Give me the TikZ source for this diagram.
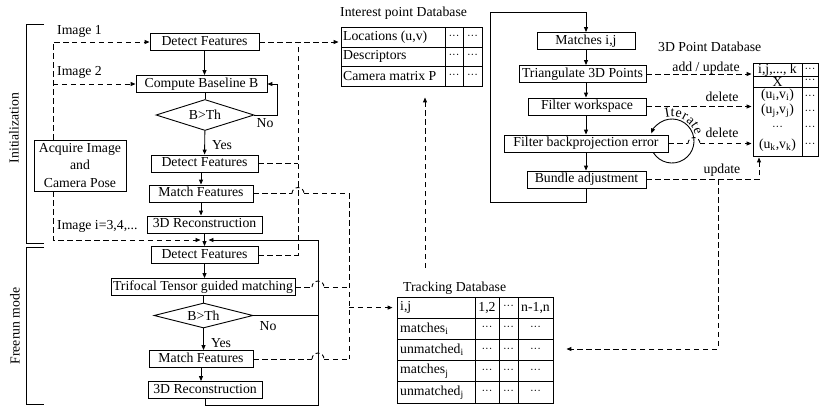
\documentclass[tikz,border=0pt]{standalone}
\usepackage{fontspec}
\setmainfont{Liberation Serif}
\usetikzlibrary{arrows.meta,shapes.geometric,decorations.text}
\tikzset{
  box/.style={draw, line width=0.9pt, inner sep=0pt, text height=9.6pt, text depth=2.6pt, minimum height=17bp},
  mbox/.style={draw, line width=0.9pt, inner sep=0pt, align=center},
  dia/.style={draw, line width=0.9pt, diamond, aspect=3.2, inner sep=0pt},
  flow/.style={line width=0.9pt, -{Triangle[length=5pt,width=4pt]}},
  sline/.style={line width=0.9pt},
  dline/.style={line width=0.9pt, dash pattern=on 5.5pt off 3.5pt},
  darrow/.style={dline, -{Triangle[length=5pt,width=4pt]}},
  hop/.style={line width=0.9pt, dash pattern=on 4pt off 3pt},
  lbl/.style={inner sep=0pt},
  dots/.style={inner sep=0pt, font=\fontsize{11}{11}\selectfont},
  tbl/.style={draw, line width=0.9pt, inner sep=0pt},
  grid/.style={line width=0.9pt},
}
\newcommand{\mydots}{\char"00B7\char"00B7\char"00B7}
\begin{document}
\begin{tikzpicture}[x=1bp, y=-1bp, font=\fontsize{13.8}{17.5}\selectfont]
\useasboundingbox (0,0) rectangle (839,409);

% brackets
\draw[sline] (44,24) -- (26,24) -- (26,243) -- (44,243);
\draw[sline] (44,247) -- (26,247) -- (26,404) -- (44,404);
\node[lbl, rotate=90] (init) at (14,128) {Initialization};
\node[lbl, rotate=90] (free) at (15,326) {Freerun mode};

% left column
\node[box, minimum width=109bp] (df1) at (204.5,42) {Detect Features};
\node[box, minimum width=131bp] (cb) at (201.5,84) {Compute Baseline B};
\node[dia, minimum width=98bp, minimum height=31bp] (d1) at (205,115) {B>Th};
\node[box, minimum width=107bp] (df2) at (204.5,163.5) {Detect Features};
\node[box, minimum width=104bp] (mf1) at (201,193.5) {Match Features};
\node[box, minimum width=115bp] (r1) at (204.5,224.5) {3D Reconstruction};
\node[mbox, minimum width=92bp, minimum height=51bp] (acq) at (80,165.5) {Acquire Image\\and\\Camera Pose};
\node[box, minimum width=107bp] (df3) at (204.5,255) {Detect Features};
\node[box, minimum width=184bp] (tri) at (203,287) {Trifocal Tensor guided matching};
\node[dia, minimum width=99bp, minimum height=25bp] (d2) at (203.5,315.5) {B>Th};
\node[box, minimum width=104bp] (mf2) at (201,359) {Match Features};
\node[box, minimum width=114bp] (r2) at (205,390) {3D Reconstruction};

\node[lbl] (no1) at (265,123) {No};
\node[lbl] (yes1) at (222,145) {Yes};
\node[lbl] (no2) at (268,326) {No};
\node[lbl] (yes2) at (221,343) {Yes};
\node[lbl, anchor=west] (im1) at (57,31) {Image 1};
\node[lbl, anchor=west] (im2) at (57,72) {Image 2};
\node[lbl, anchor=west] (imi) at (57,226) {Image i=3,4,...};

% left column arrows
\draw[flow] (df1) -- (df1.south |- cb.north);
\draw[sline] (cb.south -| d1.north) -- (d1.north);
\draw[flow] (d1) -- (df2);
\draw[flow] (df2.south -| mf1.south) -- (mf1.south |- mf1.north);
\draw[flow] (mf1.south) -- (mf1.south |- r1.north);
\draw[flow] (r1) -- (df3);
\draw[flow] (df3) -- (df3.south |- tri.north);
\draw[sline] (tri.south -| d2.north) -- (d2.north);
\draw[flow] (d2.south) -- (d2.south |- mf2.north);
\draw[flow] (mf2.south) -- (mf2.south |- r2.north);
\coordinate (nl) at (277.5,84);
\draw[flow] (d1.east) -| (nl) -- (cb.east);

% freerun loop
\coordinate (jn) at (204.5,240);
\coordinate (fl1) at (318,405);
\coordinate (fl2) at (318,240);
\draw[flow] (r2.south) |- (fl1) -- (fl2) -- ([xshift=4bp]jn);
\draw[sline] (d2.east) -- (d2.east -| fl1);

% image inputs
\coordinate (c1) at (53,42);
\coordinate (c3) at (53,240);
\draw[darrow] (acq.north -| c1) -- (c1) -- (df1.west);
\draw[darrow] (c1 |- cb.west) -- (cb.west);
\draw[darrow] (acq.south -| c3) -- (c3) -- ([xshift=-4bp]jn);

% interest point database
\node[tbl, minimum width=141bp, minimum height=59bp] (ipdb) at (411.5,56.5) {};
\draw[grid] (341,47) -- (482,47);
\draw[grid] (341,66) -- (482,66);
\draw[grid] (445,27) -- (445,86);
\draw[grid] (463,27) -- (463,86);
\node[lbl, anchor=west] (ipt) at (340,13) {Interest point Database};
\node[lbl, anchor=west] (loc) at (343,37) {Locations (u,v)};
\node[lbl, anchor=west] (des) at (343,56.5) {Descriptors};
\node[lbl, anchor=west] (cam) at (343,76) {Camera matrix P};
\foreach \y [count=\i] in {37,56.5,76} {
  \node[dots] (ipa\i) at (454,\y) {\mydots};
  \node[dots] (ipb\i) at (472.5,\y) {\mydots};
}

% dashed to interest point DB
\coordinate (v1t) at (298,42);
\coordinate (v1b) at (298,255);
\draw[darrow, shorten >=2bp] (df1.east) -- (df1.east -| ipdb.west);
\draw[dline] (df3.east) -- (v1b) -- (v1t);
\draw[dline] (df2.east) -- (df2.east -| v1t);

% dashed to tracking DB (with hops)
\coordinate (v2t) at (349,193.5);
\coordinate (v2b) at (349,359);
\coordinate (v2m) at (349,307.6);
\coordinate (h1a) at (292,193.5);
\coordinate (h1b) at (304,193.5);
\coordinate (h2a) at (312,287);
\coordinate (h2b) at (324,287);
\coordinate (h3a) at (312,359);
\coordinate (h3b) at (324,359);
\draw[dline] (mf1.east) -- (h1a);
\draw[hop] (h1a) arc[start angle=180, end angle=0, radius=6bp];
\draw[dline] (h1b) -- (v2t) -- (v2b);
\draw[dline] (tri.east) -- (h2a);
\draw[hop] (h2a) arc[start angle=180, end angle=0, radius=6bp];
\draw[dline] (h2b) -- (h2b -| v2t);
\draw[dline] (mf2.east) -- (h3a);
\draw[hop] (h3a) arc[start angle=180, end angle=0, radius=6bp];
\draw[dline] (h3b) -- (v2b);

% tracking database
\node[tbl, minimum width=156bp, minimum height=106bp] (tdb) at (475,350) {};
\foreach \y in {318.2,339.4,360.6,381.8} \draw[grid] (397,\y) -- (553,\y);
\foreach \x in {475,499,518} \draw[grid] (\x,297) -- (\x,403);
\node[lbl, anchor=west] (tdt) at (403,288) {Tracking Database};
\node[lbl, anchor=west] (h0) at (400,307.6) {i,j};
\node[lbl] (hh1) at (487,307.6) {1,2};
\node[dots] (hh2) at (508.5,307.6) {\mydots};
\node[lbl] (hh3) at (535.5,307.6) {n-1,n};
\node[lbl, anchor=west] (ra) at (400,328.8) {matches\textsubscript{i}};
\node[lbl, anchor=west] (rb) at (400,350) {unmatched\textsubscript{i}};
\node[lbl, anchor=west] (rc) at (400,371.2) {matches\textsubscript{j}};
\node[lbl, anchor=west] (rd) at (400,392.4) {unmatched\textsubscript{j}};
\foreach \y [count=\i] in {328.8,350,371.2,392.4} {
  \node[dots] (ta\i) at (487,\y) {\mydots};
  \node[dots] (tb\i) at (508.5,\y) {\mydots};
  \node[dots] (tc\i) at (535.5,\y) {\mydots};
}
\draw[darrow, shorten >=4bp] (v2m) -- (v2m -| tdb.west);
\coordinate (ut) at (425,268);
\draw[darrow, shorten >=11bp] (ut) -- (ut |- ipdb.south);

% right column
\node[box, minimum width=98bp] (mij) at (586,41) {Matches i,j};
\node[box, minimum width=127bp] (tri3) at (582.5,74) {Triangulate 3D Points};
\node[box, minimum width=118bp] (fw) at (587,106.5) {Filter workspace};
\node[box, minimum width=164bp] (fbe) at (586,143.5) {Filter backprojection error};
\node[box, minimum width=119bp] (ba) at (586.5,179.5) {Bundle adjustment};
\draw[flow] (mij.south) -- (mij.south |- tri3.north);
\draw[flow] (mij.south |- tri3.south) -- (mij.south |- fw.north);
\draw[flow] (mij.south |- fw.south) -- (mij.south |- fbe.north);
\draw[flow] (fbe.south) -- (fbe.south |- ba.north);
\coordinate (bl) at (490,202);
\coordinate (tl) at (490,12);
\draw[flow] (ba.south) |- (bl) -- (tl) -| (mij.north);

% iterate loop
\coordinate (ic) at (672,141);
\draw[flow] (ic) ++(212:22bp) arc[start angle=212, end angle=520, radius=22bp];
\path[decorate, decoration={text along path, text={|\fontsize{13.8}{16}\selectfont|Iterate}, text align=center, raise=2pt}] (ic) ++(130:22bp) arc[start angle=130, end angle=-10, radius=22bp];

% 3D point database
\node[tbl, minimum width=65bp, minimum height=93bp] (pdb) at (785.5,109.5) {};
\draw[grid] (802,63) -- (802,156);
\draw[grid] (753,76) -- (818,76);
\draw[grid] (753,87) -- (818,87);
\node[lbl, anchor=west] (pdt) at (658,47) {3D Point Database};
\node[lbl] (p1) at (777.5,70) {i,j,..., k};
\node[lbl] (p2) at (777.5,81.5) {X};
\node[lbl] (p3) at (777.5,95.5) {(u\textsubscript{i},v\textsubscript{i})};
\node[lbl] (p4) at (777.5,111) {(u\textsubscript{j},v\textsubscript{j})};
\node[dots] (p5) at (777.5,128) {\mydots};
\node[lbl] (p6) at (777.5,145) {(u\textsubscript{k},v\textsubscript{k})};
\foreach \y [count=\i] in {70,81.5,97,112,128,145} \node[dots] (pd\i) at (810,\y) {\mydots};

% dashed to 3D point DB
\draw[darrow, shorten >=1bp] (tri3.east) -- (tri3.east -| pdb.west);
\node[lbl] (addu) at (706,68) {add / update};
\draw[darrow, shorten >=1bp] (fw.east) -- (fw.east -| pdb.west);
\node[lbl] (del1) at (722,97) {delete};
\coordinate (h4a) at (688,143.5);
\coordinate (h4b) at (700,143.5);
\draw[dline] (fbe.east) -- (h4a);
\draw[hop] (h4a) arc[start angle=180, end angle=0, radius=6bp];
\draw[darrow, shorten >=1bp] (h4b) -- (h4b -| pdb.west);
\node[lbl] (del2) at (722,133) {delete};
\coordinate (up1) at (759,179.5);
\draw[darrow, shorten >=1bp] (ba.east) -- (up1) -- (up1 |- pdb.south);
\node[lbl] (upd) at (722,170) {update};
\coordinate (ud1) at (718,179.5);
\coordinate (ud2) at (718,349);
\draw[darrow, shorten >=13bp] (ud1) -- (ud2) -- (ud2 -| tdb.east);
\end{tikzpicture}
\end{document}
